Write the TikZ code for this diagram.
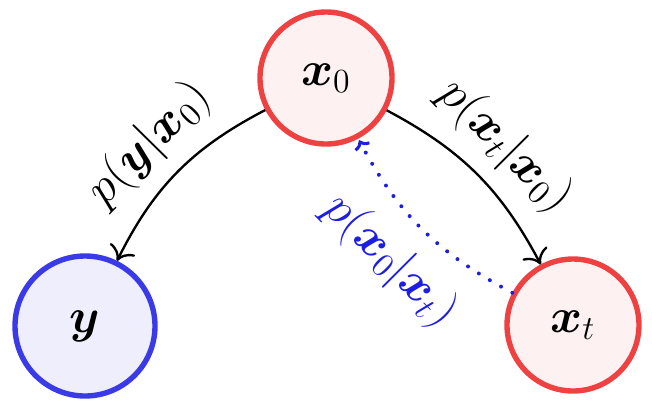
\documentclass[tikz,border=0pt]{standalone}
\usepackage{amsmath, amssymb, amsfonts, amsthm}
\usepackage{bm}
\usetikzlibrary{arrows.meta}
\definecolor{nodered}{RGB}{238,66,66}
\definecolor{nodeblue}{RGB}{58,58,232}
\definecolor{fillred}{RGB}{253,241,241}
\definecolor{fillblue}{RGB}{238,238,252}
\definecolor{textblue}{RGB}{30,30,225}

\begin{document}
\begin{tikzpicture}[x=0.015cm, y=-0.015cm, font=\huge,
    rednode/.style={circle, draw=nodered, fill=fillred, line width=2.3pt, minimum size=1.98cm, inner sep=0pt},
    bluenode/.style={circle, draw=nodeblue, fill=fillblue, line width=2.3pt, minimum size=2.1cm, inner sep=0pt},
    edge/.style={line width=1pt, -{To[scale=1.5]}},
    back/.style={textblue, line width=1.7pt, line cap=round, dash pattern=on 0pt off 5.5pt, -{To[sharp, line width=1.3pt, length=3.5pt, width=8pt]}}
]
  \useasboundingbox (0,0) rectangle (652,403);
  \node[rednode] (x0) at (326,78) {$\bm{x}_0$};
  \node[bluenode] (y) at (85,326) {$\bm{y}$};
  \node[rednode] (xt) at (573,325) {$\bm{x}_t$};

  \draw[edge] (x0) to[bend right=18] node[midway, sloped, above, inner sep=6pt] {$p(\bm{y}|\bm{x}_0)$} (y);
  \draw[edge] (x0) to[bend left=17] node[midway, sloped, above, inner sep=6pt] {$p(\bm{x}_t|\bm{x}_0)$} (xt);
  \draw[back] (xt) to[bend left=17] node[midway, sloped, below, inner sep=8pt, textblue] {$p(\bm{x}_0|\bm{x}_t)$} (x0);
\end{tikzpicture}
\end{document}
